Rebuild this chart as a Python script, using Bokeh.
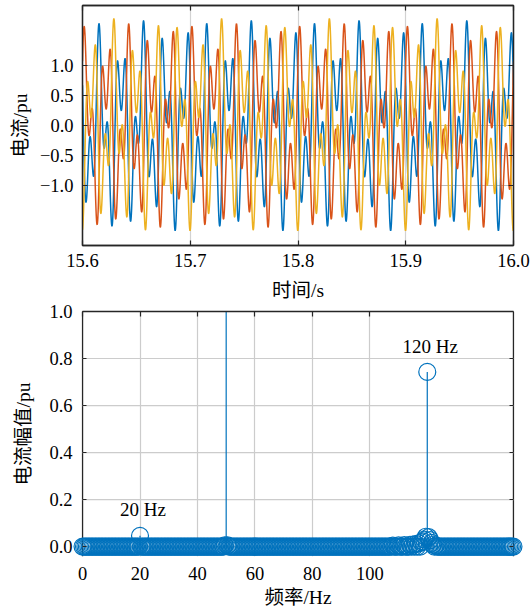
import numpy as np
from bokeh.plotting import figure
from bokeh.models import (Range1d, FixedTicker, LinearAxis, Span, ColumnDataSource,
                          CustomJSTickFormatter)
from bokeh.embed import file_html
from bokeh.resources import INLINE
from bokeh.core.properties import value

# ---------------- data: three-phase current (time domain) ----------------
t_window = [15.6, 16.0]
phase_colors = ["#0072BD", "#D95319", "#EDB120"]
comp_freqs = [50.0, 120.0, 20.0]          # Hz, components
comp_amps = [1.0, 0.743, 0.046]           # pu
phase_a_deg = [72.0, 64.8, 0.0]           # blue
phase_b_deg = [-48.0, -55.2, -120.0]      # red
phase_c_deg = [-168.0, 184.8, 120.0]      # yellow
time_ticks = [15.6, 15.7, 15.8, 15.9, 16.0]
time_tick_labels = ["15.6", "15.7", "15.8", "15.9", "16.0"]
cur_ticks = [-1.0, -0.5, 0.0, 0.5, 1.0]
cur_tick_labels = ["\u22121.0", "\u22120.5", "0.0", "0.5", "1.0"]

# ---------------- data: spectrum ----------------
spec_step = 0.5
spec_max = 150.0
peak_freqs = [20.0, 50.0, 120.0]
peak_amps = [0.046, 1.05, 0.743]
side_freqs = [49.5, 50.5, 108.0, 110.0, 112.0, 114.0, 115.0, 116.0, 117.0, 118.0,
              118.5, 119.0, 119.5, 120.5, 121.0, 121.5, 122.0, 123.0]
side_amps = [0.005, 0.005, 0.004, 0.005, 0.006, 0.008, 0.009, 0.011, 0.014, 0.018,
             0.022, 0.03, 0.042, 0.04, 0.028, 0.016, 0.008, 0.004]
freq_ticks = [0, 20, 40, 60, 80, 100]
freq_tick_labels = ["0", "20", "40", "60", "80", "100"]
amp_ticks = [0.0, 0.2, 0.4, 0.6, 0.8, 1.0]
amp_tick_labels = ["0.0", "0.2", "0.4", "0.6", "0.8", "1.0"]
ann_freqs = [20.0, 120.0]
ann_texts = ["20 Hz", "120 Hz"]

# ---------------- styles ----------------
FONT = "Liberation Serif, Noto Sans CJK SC"
TICK_FS = "18.5px"
TITLE_FS = "19.5px"
AX = "#262626"
BLUE = "#0072BD"

# time-domain waveforms built from the component table
t = np.linspace(t_window[0], t_window[1], 4001)
tr = t - t_window[0]
waves = []
for ph in (phase_a_deg, phase_b_deg, phase_c_deg):
    w = np.zeros_like(t)
    for f, a, d in zip(comp_freqs, comp_amps, ph):
        w += a * np.cos(2 * np.pi * f * tr + np.deg2rad(d))
    waves.append(w)

# spectrum arrays
freqs = np.arange(0.0, spec_max + spec_step / 2, spec_step)
amps = np.zeros_like(freqs)
for f, a in zip(side_freqs + peak_freqs, side_amps + peak_amps):
    amps[np.argmin(np.abs(freqs - f))] = a


def blank_axis(ticker, tin, tout, line=True):
    ax = LinearAxis(ticker=ticker,
                    formatter=CustomJSTickFormatter(code="return ''"),
                    major_label_text_font_size="0px", major_label_standoff=0,
                    major_tick_in=tin, major_tick_out=tout,
                    minor_tick_line_color=None, minor_tick_in=0, minor_tick_out=0,
                    major_tick_line_color=AX, major_tick_line_width=1.2,
                    axis_line_color=AX if line else None, axis_line_width=1.3)
    return ax


def style_axis(ax, ticks, labels):
    ax.ticker = FixedTicker(ticks=ticks)
    ax.major_label_overrides = {k: v for k, v in zip(ticks, labels)}
    ax.major_label_text_font = FONT
    ax.major_label_text_font_size = TICK_FS
    ax.major_label_text_color = "#000000"
    ax.axis_label_text_font = FONT
    ax.axis_label_text_font_size = TITLE_FS
    ax.axis_label_text_font_style = "normal"
    ax.axis_label_text_color = "#000000"
    ax.minor_tick_line_color = None
    ax.minor_tick_in = 0
    ax.minor_tick_out = 0
    ax.major_tick_line_color = AX
    ax.major_tick_line_width = 1.2
    ax.axis_line_color = AX
    ax.axis_line_width = 1.3


# ---------------- top figure ----------------
p1 = figure(frame_width=431, frame_height=240,
            x_range=Range1d(t_window[0], t_window[1]), y_range=Range1d(-2.0, 2.0),
            min_border_left=82, min_border_right=18, min_border_top=5,
            min_border_bottom=55, output_backend="svg", toolbar_location=None)
p1.background_fill_color = "white"
p1.outline_line_color = AX
p1.outline_line_width = 1.3
style_axis(p1.xaxis[0], time_ticks, time_tick_labels)
style_axis(p1.yaxis[0], cur_ticks, cur_tick_labels)
p1.xaxis.axis_label = "时间/s"
p1.yaxis.axis_label = "电流/pu"
p1.xaxis.major_tick_in = 5
p1.xaxis.major_tick_out = 0
p1.yaxis.major_tick_in = 5
p1.yaxis.major_tick_out = 0
p1.xaxis.major_label_standoff = 8
p1.xaxis.axis_label_standoff = 10
p1.yaxis.major_label_standoff = 9
p1.yaxis.axis_label_standoff = 6
p1.xgrid.ticker = FixedTicker(ticks=time_ticks)
p1.ygrid.ticker = FixedTicker(ticks=cur_ticks)
p1.xgrid.grid_line_color = "#d2d2d2"
p1.ygrid.grid_line_color = "#b9b9b9"
p1.xgrid.grid_line_width = 1.2
p1.ygrid.grid_line_width = 1.2
p1.add_layout(blank_axis(FixedTicker(ticks=cur_ticks), 5, 0), "right")
p1.add_layout(blank_axis(FixedTicker(ticks=time_ticks), 5, 0), "above")

for w, c in zip(waves, phase_colors):
    p1.line(t, w, line_color=c, line_width=1.5)

# ---------------- bottom figure ----------------
PAD_F = 3.5      # frame padding so the circle markers are not cut off
PAD_A = 0.042
p2 = figure(frame_width=451, frame_height=245,
            x_range=Range1d(-PAD_F, spec_max + PAD_F), y_range=Range1d(-PAD_A, 1.0),
            min_border_left=72, min_border_right=8, min_border_top=8,
            min_border_bottom=50, output_backend="svg", toolbar_location=None)
p2.outline_line_color = None
style_axis(p2.xaxis[0], freq_ticks, freq_tick_labels)
style_axis(p2.yaxis[0], amp_ticks, amp_tick_labels)
p2.xaxis.axis_label = "频率/Hz"
p2.yaxis.axis_label = "电流幅值/pu"
p2.xaxis.axis_line_color = None
p2.xaxis.major_tick_line_color = None
p2.xaxis.major_tick_in = 0
p2.xaxis.major_tick_out = 0
p2.xaxis.major_label_standoff = 10
p2.xaxis.axis_label_standoff = 4
p2.yaxis.axis_line_color = None
p2.yaxis.major_tick_in = 14
p2.yaxis.major_tick_out = -10
p2.yaxis.major_label_standoff = 0
p2.yaxis.axis_label_standoff = 12
p2.xgrid.ticker = FixedTicker(ticks=freq_ticks[1:])
p2.xgrid.grid_line_color = "#cccccc"
p2.xgrid.grid_line_width = 1.2
p2.ygrid.visible = False
p2.add_layout(blank_axis(FixedTicker(ticks=amp_ticks), 14, -10, line=False), "right")
top_ax = blank_axis(FixedTicker(ticks=freq_ticks), 5, 0)
top_ax.bounds = (0, spec_max)
p2.add_layout(top_ax, "above")

# horizontal grid lines limited to the axes box
p2.segment(x0=0, x1=spec_max, y0=amp_ticks, y1=amp_ticks,
           line_color="#cccccc", line_width=1.2)
for xb in (0.0, spec_max):
    p2.add_layout(Span(location=xb, dimension="height", line_color=AX,
                       line_width=1.3, level="underlay"))

src = ColumnDataSource(dict(f=freqs, a=amps))
p2.segment(x0="f", x1="f", y0=0, y1="a", source=src, line_color=BLUE, line_width=1.2)
p2.scatter("f", "a", source=src, marker="circle", size=17, fill_color=None,
           line_color=BLUE, line_width=1.2)

ann_y = [amps[np.argmin(np.abs(freqs - f))] + 0.11 for f in ann_freqs]
ann_x = [f + 1.0 for f in ann_freqs]
p2.text(x=ann_x, y=ann_y, text=ann_texts, text_font=value(FONT),
        text_font_size=value("19px"), text_align="center",
        text_baseline="middle", text_color="#000000")

open("out.html", "w").write(file_html([p1, p2], INLINE))
